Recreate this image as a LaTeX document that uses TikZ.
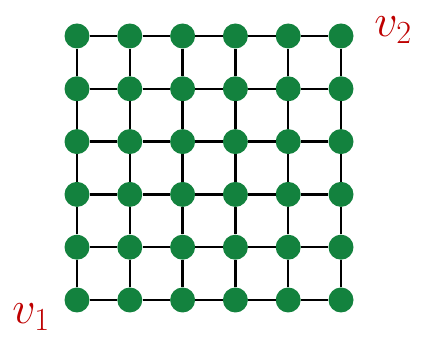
\RequirePackage{fix-cm}
\documentclass[tikz,border=0pt]{standalone}
\usepackage{tikz}
\usetikzlibrary{positioning}

\definecolor{dotgreen}{RGB}{19,130,62}
\definecolor{labred}{RGB}{190,0,0}

\begin{document}
\begin{tikzpicture}[x=1pt,y=1pt,
 vertex/.style={circle,fill=dotgreen,draw=none,inner sep=0pt,minimum size=25pt},
 edge/.style={line width=2.3pt,black},
 lab/.style={text=labred,inner sep=0pt,font=\fontsize{46}{52}\selectfont}]
\useasboundingbox (0,0) rectangle (421,339);
% 6x6 grid of vertices
\foreach \i in {0,...,5} {
  \foreach \j in {0,...,5} {
    \node[vertex] (n-\i-\j) at (77+52.8*\i,39+52.8*\j) {};
  }
}
% horizontal and vertical edges
\foreach \i in {0,...,4} {
  \pgfmathtruncatemacro{\k}{\i+1}
  \foreach \j in {0,...,5} {
    \draw[edge] (n-\i-\j)--(n-\k-\j);
    \draw[edge] (n-\j-\i)--(n-\j-\k);
  }
}
\node[lab] (v-one) at (31,22) {$v_1$};
\node[lab] (v-two) at (393,309) {$v_2$};
\end{tikzpicture}
\end{document}
